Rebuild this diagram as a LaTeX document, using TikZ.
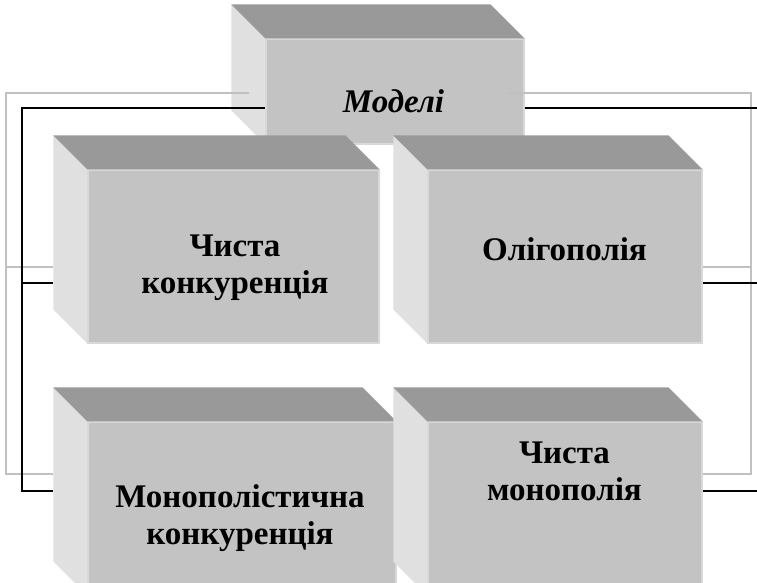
\documentclass[tikz,border=0pt]{standalone}
\usepackage{fontspec}
\setmainfont{Liberation Serif}
\usetikzlibrary{calc}

\definecolor{topgray}{HTML}{999999}
\definecolor{sidegray}{HTML}{E0E0E0}
\definecolor{frontgray}{HTML}{C3C3C3}
\definecolor{edgegray}{HTML}{D8D8D8}
\definecolor{linegray}{HTML}{C0C0C0}

\begin{document}
\begin{tikzpicture}[x=1pt,y=-1pt,
  face/.style={fill=frontgray, draw=edgegray, line width=1.2pt, inner sep=0pt, minimum height=173pt},
  txt/.style={font=\rmfamily\bfseries\fontsize{33}{37}\selectfont, align=center, inner sep=0pt},
  bus/.style={line width=1.6pt},
  busg/.style={line width=1.6pt, draw=linegray}]

  \useasboundingbox (0,0) rectangle (757,582);

  % top box
  \node[face, minimum width=258pt, minimum height=105pt] (model) at (395,91.5) {};
  \fill[sidegray] (model.north west) -- (model.south west) -- ++(-34,-34) -- ([shift={(-34,-34)}]model.north west) -- cycle;
  \fill[topgray] (model.north west) -- (model.north east) -- ++(-34,-34) -- ([shift={(-34,-34)}]model.north west) -- cycle;
  \node[txt, anchor=base] (modeltxt) at (393.5,112) {\itshape Моделі};

  % the four boxes
  \foreach \n/\x/\y/\w in {pc/233.5/256.5/291, ol/565/256.5/274, mc/242/508.5/308, pm/565/508.5/274} {
    \node[face, minimum width=\w pt] (\n) at (\x,\y) {};
    \fill[sidegray] (\n.north west) -- (\n.south west) -- ++(-34,-34) -- ([shift={(-34,-34)}]\n.north west) -- cycle;
    \fill[topgray] (\n.north west) -- (\n.north east) -- ++(-34,-34) -- ([shift={(-34,-34)}]\n.north west) -- cycle;
  }

  \node[txt] (pctxt) at (235,268) {Чиста\\конкуренція};
  \node[txt, anchor=base] (oltxt) at (564.5,260) {Олігополія};
  \node[txt] (mctxt) at (240,518) {Монополістична\\конкуренція};
  \node[txt] (pmtxt) at (564.5,471) {Чиста\\монополія};

  % connectors
  \coordinate (mL) at ($(model.west)+(0,16.5)$);
  \coordinate (mLg) at ($(model.west)+(-16,1.5)$);
  \coordinate (mR) at ($(model.east)+(0,16.5)$);
  \coordinate (mRg) at ($(model.east)+(-17,1.5)$);
  \coordinate (pcL) at ($(pc.west)+(-34,26.5)$);
  \coordinate (pcLg) at ($(pc.west)+(-34,10.5)$);
  \coordinate (mcL) at ($(mc.west)+(-34,-17.5)$);
  \coordinate (mcLg) at ($(mc.west)+(-34,-34.5)$);
  \coordinate (olR) at ($(ol.east)+(0,26.5)$);
  \coordinate (olRg) at ($(ol.east)+(0,10.5)$);
  \coordinate (pmR) at ($(pm.east)+(0,-17.5)$);
  \coordinate (pmRg) at ($(pm.east)+(0,-34.5)$);
  \coordinate (busL) at (22,108);
  \coordinate (busLg) at (6,93);
  \coordinate (busR) at (768,108);
  \coordinate (busRg) at (751,93);

  \draw[busg] (mLg) -- (busLg) |- (mcLg);
  \draw[busg] (busLg) |- (pcLg);
  \draw[busg] (mRg) -- (busRg) |- (pmRg);
  \draw[busg] (busRg) |- (olRg);

  \draw[bus] (mL) -- (busL) |- (mcL);
  \draw[bus] (busL) |- (pcL);
  \draw[bus] (mR) -- (busR) |- (pmR);
  \draw[bus] (busR) |- (olR);
\end{tikzpicture}
\end{document}
